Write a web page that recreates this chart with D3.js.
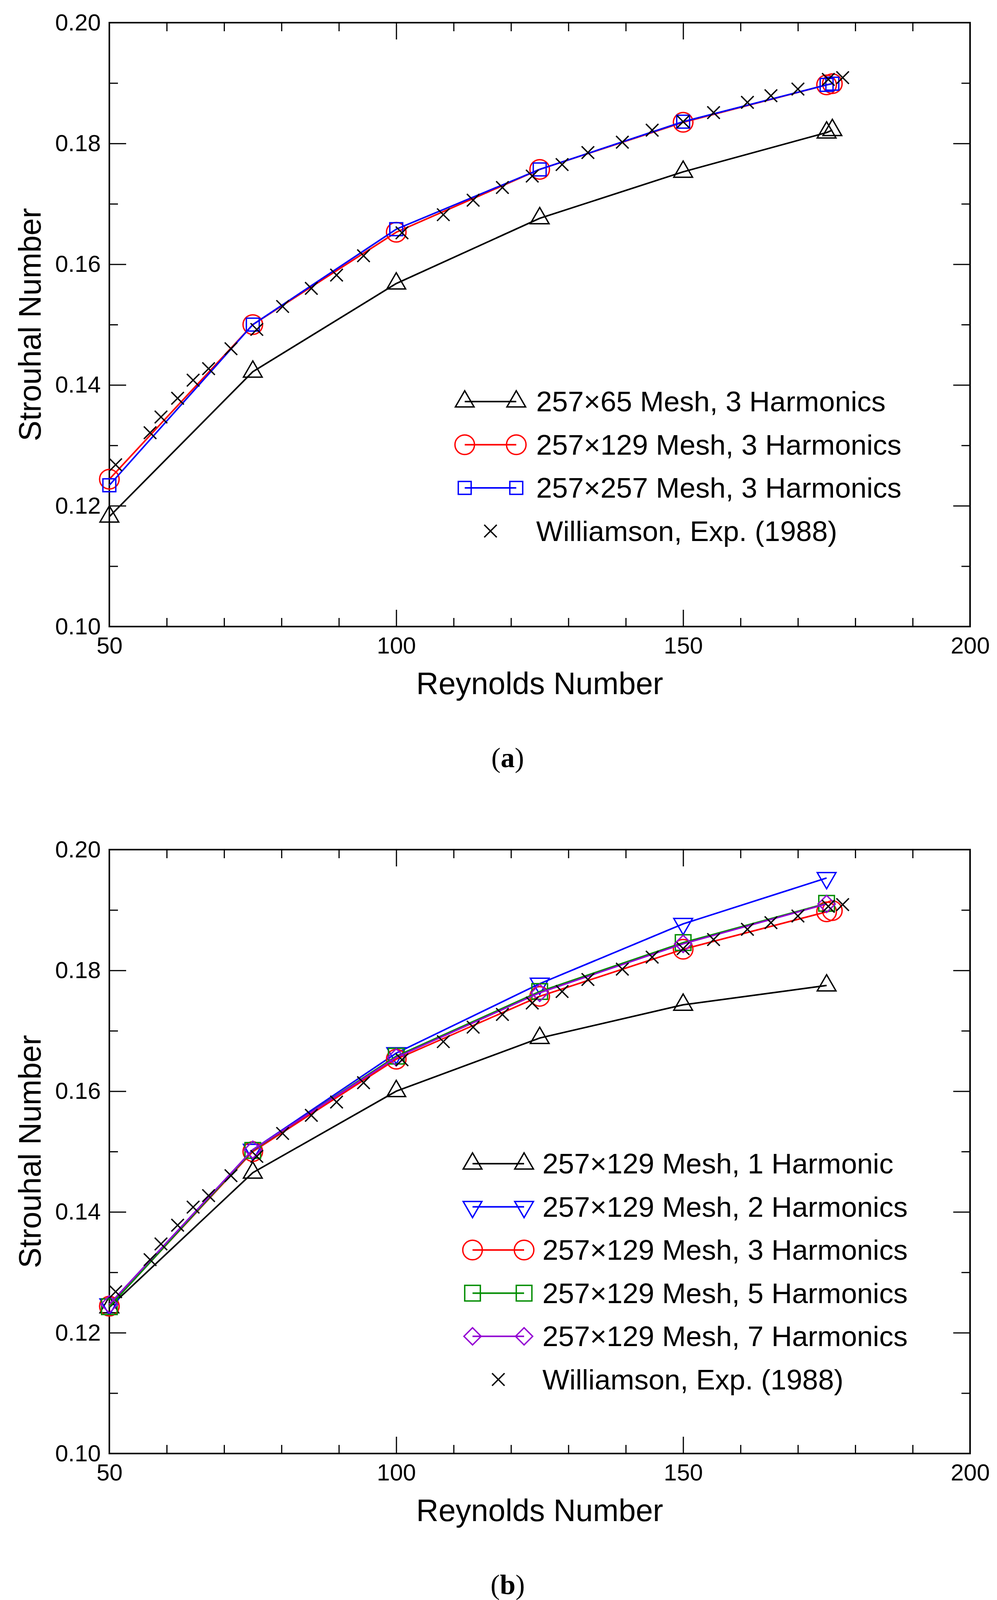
<!DOCTYPE html>
<html>
<head>
<meta charset="utf-8">
<script src="https://cdn.jsdelivr.net/npm/d3@7"></script>
<style>
  body { margin: 0; background: #fff; }
  text { font-family: "Liberation Sans", Arial, Helvetica, sans-serif; fill: #000; }
</style>
</head>
<body>
<script>
// Reynolds numbers of the computed cases
var reCases = [50, 75, 100, 125, 150, 175];
var reCasesPlus = [50, 75, 100, 125, 150, 175, 176];

// (a) mesh study, 3 harmonics
var stMesh65 = [0.1182, 0.1422, 0.1568, 0.1676, 0.1753, 0.1818, 0.1822];
var stMesh129 = [0.1244, 0.1500, 0.1653, 0.1757, 0.1835, 0.1897, 0.1899];
var stMesh257 = [0.1234, 0.1500, 0.1658, 0.1757, 0.1836, 0.1897, 0.1899];

// (b) harmonic study, 257x129 mesh
var stHarm1 = [0.1242, 0.1465, 0.1600, 0.1688, 0.1743, 0.1775];
var stHarm2 = [0.1247, 0.1503, 0.1663, 0.1778, 0.1877, 0.1953];
var stHarm3 = stMesh129;
var stHarm5 = [0.1243, 0.1502, 0.1658, 0.1765, 0.1846, 0.1911];
var stHarm7 = [0.1247, 0.1503, 0.1656, 0.1763, 0.1844, 0.1910];

// Williamson, Exp. (1988)
var reExp = [51.1, 57.1, 59.0, 61.9, 64.6, 67.3, 71.2, 75.7, 80.2, 85.2, 89.6, 94.3, 101.0, 108.2,
             113.4, 118.5, 123.7, 128.9, 133.4, 139.4, 144.6, 150.0, 155.3, 161.2, 165.3, 170.0, 175.3, 177.8];
var stExp = [0.1268, 0.1321, 0.1347, 0.1378, 0.1408, 0.1427, 0.1460, 0.1492, 0.1530, 0.1560, 0.1582, 0.1614, 0.1652, 0.1682,
             0.1706, 0.1727, 0.1746, 0.1765, 0.1785, 0.1802, 0.1822, 0.1836, 0.1851, 0.1868, 0.1879, 0.1890, 0.1906, 0.1909];

var xMajor = [50, 100, 150, 200];
var xMinor = [60, 70, 80, 90, 110, 120, 130, 140, 160, 170, 180, 190];
var yMajor = [0.10, 0.12, 0.14, 0.16, 0.18, 0.20];
var yMinor = [0.11, 0.13, 0.15, 0.17, 0.19];

var labelsA = ["257\u00d765 Mesh, 3 Harmonics", "257\u00d7129 Mesh, 3 Harmonics", "257\u00d7257 Mesh, 3 Harmonics", "Williamson, Exp. (1988)"];
var labelsB = ["257\u00d7129 Mesh, 1 Harmonic", "257\u00d7129 Mesh, 2 Harmonics", "257\u00d7129 Mesh, 3 Harmonics",
               "257\u00d7129 Mesh, 5 Harmonics", "257\u00d7129 Mesh, 7 Harmonics", "Williamson, Exp. (1988)"];

var W = 2553, H = 4124;
var svg = d3.select("body").append("svg").attr("width", W).attr("height", H);

function zip(xs, ys) {
  return xs.map(function(x, i) { return [x, ys[i]]; });
}

// hollow symbols, centred on the point
function symbolPath(type, s) {
  if (type == "tri") {
    var h = s * Math.sqrt(3) / 2;
    return "M0," + (-2 * h / 3) + "L" + (s / 2) + "," + (h / 3) + "L" + (-s / 2) + "," + (h / 3) + "Z";
  }
  if (type == "itri") {
    var h2 = s * Math.sqrt(3) / 2;
    return "M0," + (2 * h2 / 3) + "L" + (s / 2) + "," + (-h2 / 3) + "L" + (-s / 2) + "," + (-h2 / 3) + "Z";
  }
  if (type == "circle") {
    return "M" + s + ",0A" + s + "," + s + " 0 1,1 " + (-s) + ",0A" + s + "," + s + " 0 1,1 " + s + ",0Z";
  }
  if (type == "square") {
    return "M" + (-s / 2) + "," + (-s / 2) + "h" + s + "v" + s + "h" + (-s) + "Z";
  }
  if (type == "diamond") {
    return "M0," + (-s) + "L" + s + ",0L0," + s + "L" + (-s) + ",0Z";
  }
  // cross
  return "M" + (-s) + "," + (-s) + "L" + s + "," + s + "M" + (-s) + "," + s + "L" + s + "," + (-s);
}

function drawPanel(top, series, legend, caption) {
  var x = d3.scaleLinear().domain([50, 200]).range([280, 2484]);
  var y = d3.scaleLinear().domain([0.10, 0.20]).range([top + 1546, top]);
  var g = svg.append("g");

  // ticks on all four sides, pointing inward
  function ax(axis, transform, size, vals, labels, pad) {
    var a = g.append("g").attr("transform", transform)
      .call(axis.tickValues(vals).tickSize(size).tickPadding(pad)
        .tickFormat(labels ? labels : function() { return ""; }));
    a.select(".domain").remove();
    a.selectAll("line").attr("stroke", "#000").attr("stroke-width", 3);
    a.selectAll("text").attr("font-size", 60).attr("font-family", "Liberation Sans, Arial, sans-serif");
    return a;
  }
  var b = top + 1546;
  ax(d3.axisBottom(x), "translate(0," + b + ")", -43, xMajor, d3.format("d"), 26);
  ax(d3.axisBottom(x), "translate(0," + b + ")", -22, xMinor, null, 0);
  ax(d3.axisTop(x), "translate(0," + top + ")", -43, xMajor, null, 0);
  ax(d3.axisTop(x), "translate(0," + top + ")", -22, xMinor, null, 0);
  ax(d3.axisLeft(y), "translate(280,0)", -43, yMajor, d3.format(".2f"), 22);
  ax(d3.axisLeft(y), "translate(280,0)", -22, yMinor, null, 0);
  ax(d3.axisRight(y), "translate(2484,0)", -43, yMajor, null, 0);
  ax(d3.axisRight(y), "translate(2484,0)", -22, yMinor, null, 0);

  g.append("rect").attr("x", 280).attr("y", top).attr("width", 2204).attr("height", 1546)
    .attr("fill", "none").attr("stroke", "#000").attr("stroke-width", 4);

  // axis titles
  g.append("text").attr("x", 1382).attr("y", top + 1719).attr("text-anchor", "middle")
    .attr("font-size", 79).text("Reynolds Number");
  g.append("text").attr("transform", "translate(104," + (top + 773) + ") rotate(-90)")
    .attr("text-anchor", "middle").attr("font-size", 79).text("Strouhal Number");

  var line = d3.line().x(function(d) { return x(d[0]); }).y(function(d) { return y(d[1]); });

  series.forEach(function(s) {
    var pts = zip(s.re, s.st);
    if (s.line) {
      g.append("path").datum(pts).attr("d", line).attr("fill", "none")
        .attr("stroke", s.color).attr("stroke-width", 4);
    }
    g.selectAll(null).data(pts).enter().append("path")
      .attr("transform", function(d) { return "translate(" + x(d[0]) + "," + y(d[1]) + ")"; })
      .attr("d", symbolPath(s.sym, s.size))
      .attr("fill", "none").attr("stroke", s.color).attr("stroke-width", 3.5);
  });

  // legend
  series.forEach(function(s, i) {
    var ly = legend.y0 + i * 110.5;
    var lg = g.append("g");
    if (s.line) {
      lg.append("line").attr("x1", legend.x1).attr("x2", legend.x1 + 132).attr("y1", ly).attr("y2", ly)
        .attr("stroke", s.color).attr("stroke-width", 4);
      [legend.x1, legend.x1 + 132].forEach(function(sx) {
        lg.append("path").attr("transform", "translate(" + sx + "," + ly + ")")
          .attr("d", symbolPath(s.sym, s.size)).attr("fill", "none")
          .attr("stroke", s.color).attr("stroke-width", 3.5);
      });
    } else {
      lg.append("path").attr("transform", "translate(" + (legend.x1 + 66) + "," + ly + ")")
        .attr("d", symbolPath(s.sym, s.size)).attr("fill", "none")
        .attr("stroke", s.color).attr("stroke-width", 3.5);
    }
    lg.append("text").attr("x", legend.tx).attr("y", ly + 25).attr("font-size", 73).text(legend.labels[i]);
  });

  // caption
  var c = g.append("text").attr("x", 1300).attr("y", top + 1906).attr("text-anchor", "middle")
    .attr("font-size", 72).style("font-family", "Liberation Serif, Times New Roman, serif");
  c.append("tspan").text("(");
  c.append("tspan").attr("font-weight", "bold").text(caption);
  c.append("tspan").text(")");
}

drawPanel(58, [
  { re: reCasesPlus, st: stMesh65, color: "#000000", sym: "tri", size: 48, line: true },
  { re: reCasesPlus, st: stMesh129, color: "#ff0000", sym: "circle", size: 25, line: true },
  { re: reCasesPlus, st: stMesh257, color: "#0000ff", sym: "square", size: 33, line: true },
  { re: reExp, st: stExp, color: "#000000", sym: "cross", size: 16, line: false }
], { y0: 1028, x1: 1190, tx: 1373, labels: labelsA }, "a");

drawPanel(2175, [
  { re: reCases, st: stHarm1, color: "#000000", sym: "tri", size: 48, line: true },
  { re: reCases, st: stHarm2, color: "#0000ff", sym: "itri", size: 48, line: true },
  { re: reCasesPlus, st: stHarm3, color: "#ff0000", sym: "circle", size: 25, line: true },
  { re: reCases, st: stHarm5, color: "#008c00", sym: "square", size: 40, line: true },
  { re: reCases, st: stHarm7, color: "#9400d3", sym: "diamond", size: 22, line: true },
  { re: reExp, st: stExp, color: "#000000", sym: "cross", size: 16, line: false }
], { y0: 2979, x1: 1210, tx: 1389, labels: labelsB }, "b");
</script>
</body>
</html>
